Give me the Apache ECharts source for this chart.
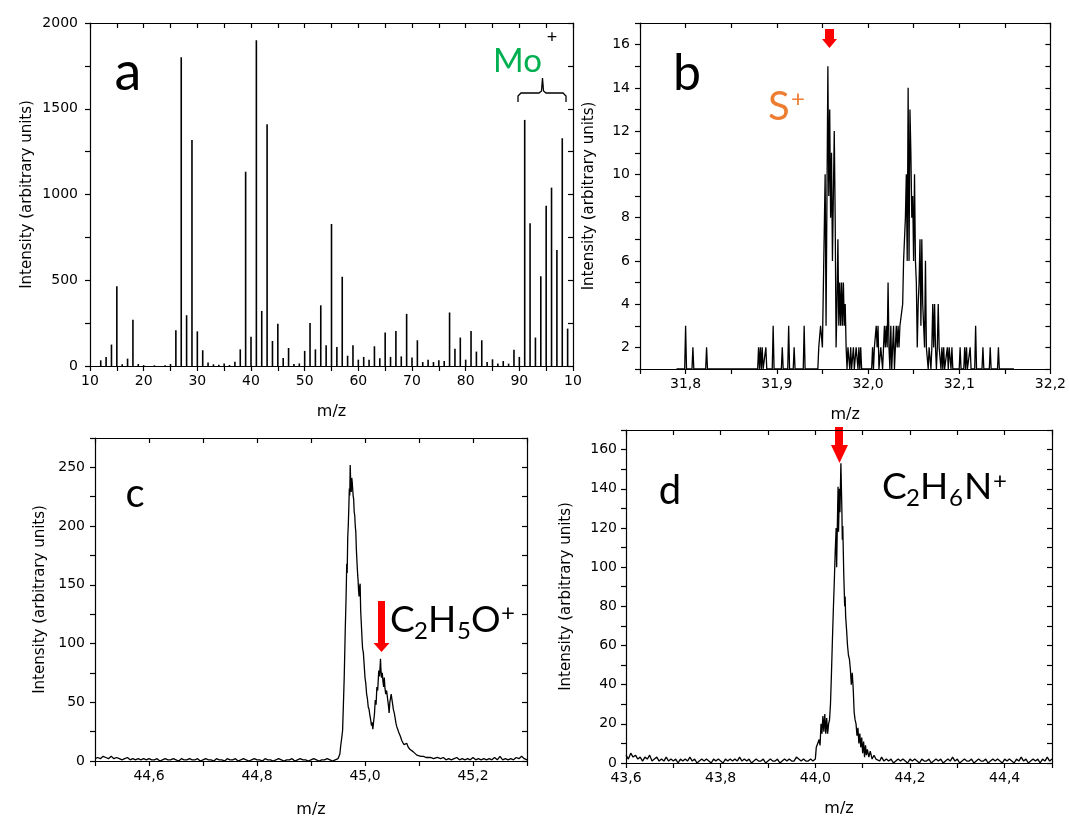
<!DOCTYPE html>
<html><head><meta charset="utf-8">
<script src="https://cdn.jsdelivr.net/npm/echarts@6/dist/echarts.min.js"></script>
<style>html,body{margin:0;padding:0;background:#fff}#chart{width:1069px;height:819px}</style>
</head><body><div id="chart"></div>
<script>
// ---- Panel a: stick spectrum (m/z, intensity)
const mzA  = [12,13,14,15,16,17,18,19,20,22,24,25,26,27,28,29,30,31,32,33,34,35,36,37,38,39,40,41,42,43,44,45,46,47,48,49,50,51,52,53,54,55,56,57,58,59,60,61,62,63,64,65,66,67,68,69,70,71,72,73,74,75,76,77,78,79,80,81,82,83,84,85,86,87,88,89,90,91,92,93,94,95,96,97,98,99];
const intA = [33,53,125,465,10,43,270,12,5,4,5,12,208,1801,296,1318,202,92,20,10,8,14,6,25,97,1133,170,1899,321,1410,146,247,47,105,12,15,88,251,97,354,121,828,111,520,60,121,37,53,37,115,45,195,53,204,56,304,49,150,23,37,23,33,29,312,101,166,37,204,84,150,23,39,14,29,14,95,53,1435,832,166,524,935,1040,676,1328,218];

// ---- Panel b: S+ region
const specB = [
[31.790,1],[31.799,1],[31.800,3],[31.801,1],[31.807,1],[31.808,2],[31.809,1],[31.822,1],[31.823,2],[31.824,1],
[31.879,1],[31.880,2],[31.881,1],[31.882,2],[31.883,1],[31.884,2],[31.885,1],[31.887,1],[31.888,2],[31.889,1],
[31.895,1],[31.896,3],[31.897,1],[31.905,1],[31.906,2],[31.907,1],[31.912,1],[31.913,3],[31.914,1],
[31.918,1],[31.919,2],[31.920,1],[31.929,1],[31.930,3],[31.931,1],
[31.945,1],[31.946,2],[31.947,2],[31.948,3],[31.949,3],[31.950,2],[31.951,2],[31.953,10],[31.954,3],[31.956,15],[31.957,9],[31.958,13],[31.959,8],[31.960,11],[31.961,6],[31.963,12],[31.964,8],[31.965,2],[31.966,4],[31.967,7],[31.968,3],[31.969,5],[31.970,3],[31.971,5],[31.972,3],[31.973,5],[31.974,3],[31.975,4],[31.976,2],[31.977,1],[31.978,2],[31.979,2],[31.980,1],[31.981,2],[31.982,1],[31.983,1],[31.984,2],[31.985,1],[31.986,1],[31.987,2],[31.988,2],[31.989,1],[31.990,2],[31.991,1],[31.992,2],[31.993,1],
[32.004,1],[32.005,2],[32.006,1],[32.007,2],[32.008,2],[32.009,3],[32.010,2],[32.011,3],[32.012,1],[32.013,1],[32.014,2],[32.015,2],[32.016,1],[32.017,2],[32.018,3],[32.019,2],[32.020,3],[32.021,2],[32.022,5],[32.023,2],[32.024,1],[32.025,3],[32.026,1],[32.027,2],[32.028,3],[32.029,1],[32.030,2],[32.031,3],[32.032,2],[32.033,3],[32.034,2],[32.035,3],
[32.036,3],[32.037,3],[32.038,4],[32.039,6],[32.040,6],[32.041,8],[32.042,10],[32.043,6],[32.044,14],[32.045,6],[32.046,13],[32.047,11],[32.048,8],[32.049,9],[32.050,6],[32.051,10],[32.052,6],[32.053,5],[32.054,2],[32.055,4],[32.056,5],[32.057,7],[32.058,3],[32.059,7],[32.060,4],[32.061,3],[32.062,2],[32.063,6],[32.064,2],[32.065,2],[32.066,1],[32.067,2],[32.068,2],[32.069,1],[32.070,2],[32.071,4],[32.072,2],[32.073,4],[32.074,2],[32.075,1],[32.076,2],[32.077,4],[32.078,2],[32.079,2],[32.080,1],[32.081,2],[32.082,1],[32.083,2],[32.084,1],[32.086,1],[32.087,2],[32.088,1],[32.089,2],[32.090,2],[32.091,1],[32.092,2],[32.093,1],
[32.100,1],[32.101,2],[32.102,1],[32.105,1],[32.106,2],[32.107,1],[32.108,2],[32.109,1],[32.111,1],[32.112,2],[32.113,1],[32.117,1],[32.118,3],[32.119,1],[32.125,1],[32.126,2],[32.127,1],[32.133,1],[32.134,2],[32.135,1],[32.142,1],[32.143,2],[32.144,1],[32.160,1]
];

// ---- Panel c: C2H5O+ region
const specC = [
[44.500,2],[44.505,3],[44.510,2],[44.515,4],[44.520,3],[44.525,2],[44.530,4],[44.535,2],[44.540,3],[44.545,2],[44.550,1],[44.555,2],[44.560,3],[44.565,1],[44.570,2],[44.575,1],[44.580,2],[44.585,1],[44.590,2],[44.595,1],
[44.600,2],[44.605,1],[44.610,1],[44.615,2],[44.620,0],[44.625,1],[44.630,2],[44.635,1],[44.640,1],[44.645,2],[44.650,1],[44.655,0],[44.660,2],[44.665,1],[44.670,1],[44.675,2],[44.680,1],[44.685,1],[44.690,2],[44.695,0],
[44.700,1],[44.705,2],[44.710,1],[44.715,1],[44.720,0],[44.725,2],[44.730,1],[44.735,1],[44.740,0],[44.745,2],[44.750,1],[44.755,1],[44.760,2],[44.765,0],[44.770,1],[44.775,2],[44.780,1],[44.785,0],[44.790,1],[44.795,2],
[44.800,1],[44.805,1],[44.810,0],[44.815,2],[44.820,1],[44.825,1],[44.830,0],[44.835,1],[44.840,2],[44.845,1],[44.850,0],[44.855,1],[44.860,1],[44.865,2],[44.870,0],[44.875,1],[44.880,2],[44.885,1],[44.890,1],[44.895,0],
[44.900,1],[44.905,2],[44.910,1],[44.915,0],[44.920,1],[44.925,1],[44.930,2],[44.935,1],[44.940,0],[44.945,1],[44.950,2],
[44.951,1],[44.952,3],[44.9535,6],[44.955,13],[44.957,20],[44.9585,26],[44.960,48],[44.9615,71],[44.9635,113],[44.965,140],[44.9662,168],[44.967,160],[44.968,190],[44.969,200],[44.970,215],[44.971,232],[44.9718,226],[44.9726,252],[44.9735,238],[44.9745,229],[44.9755,241],[44.9764,237],[44.978,226],[44.979,223],[44.980,212],[44.981,209],[44.982,200],[44.983,195],[44.984,180],[44.9853,168],[44.9865,158],[44.9872,154],[44.988,146],[44.989,140],[44.990,148],[44.991,151],[44.992,128],[44.9936,113],[44.9945,104],[44.9955,96],[44.997,92],[44.998,85],[44.999,78],
[45.000,71],[45.0015,66],[45.003,57],[45.0045,53],[45.006,46],[45.0075,44],[45.009,39],[45.0105,35],[45.012,30],[45.013,33],[45.0145,27],[45.016,28],[45.0175,40],[45.019,52],[45.0205,48],[45.022,63],[45.0235,60],[45.0255,77],[45.027,72],[45.0287,87],[45.0295,78],[45.0306,71],[45.032,75],[45.0332,68],[45.0345,63],[45.0357,71],[45.037,62],[45.0383,57],[45.040,60],[45.0421,52],[45.0435,47],[45.0447,41],[45.046,50],[45.0485,57],[45.050,52],[45.051,49],[45.0525,44],[45.0542,41],[45.056,36],[45.0574,32],[45.059,29],[45.0606,27],[45.062,25],[45.0638,24],[45.0655,21],[45.067,19],[45.0685,17],[45.0702,16],[45.072,14],[45.0753,13],[45.0775,15],[45.0798,12],[45.083,10],[45.0862,9],[45.089,8],[45.0926,7],[45.096,5],[45.099,6],[45.1035,4],[45.1085,4],[45.113,3],[45.1213,3],[45.127,2],[45.134,3],
[45.140,2],[45.145,3],[45.150,1],[45.155,2],[45.160,1],[45.165,2],[45.170,3],[45.175,1],[45.180,2],[45.185,1],[45.190,2],[45.195,1],[45.200,3],[45.205,1],[45.210,2],[45.215,1],[45.220,2],[45.225,1],[45.230,2],[45.235,1],[45.240,3],[45.245,1],[45.250,4],[45.255,1],[45.260,2],[45.265,1],[45.270,2],[45.275,1],[45.280,3],[45.285,2],[45.290,4],[45.295,2],[45.300,1]
];

// ---- Panel d: C2H6N+ region
const specD = [
[43.600,4],[43.605,2],[43.610,5],[43.615,3],[43.620,4],[43.625,2],[43.630,3],[43.635,1],[43.640,3],[43.645,2],[43.650,4],[43.655,1],[43.660,2],[43.665,3],[43.670,1],[43.675,2],[43.680,1],[43.685,3],[43.690,1],[43.695,2],
[43.700,1],[43.705,2],[43.710,0],[43.715,2],[43.720,1],[43.725,2],[43.730,1],[43.735,3],[43.740,1],[43.745,2],[43.750,0],[43.755,1],[43.760,2],[43.765,1],[43.770,2],[43.775,1],[43.780,0],[43.785,2],[43.790,1],[43.795,2],
[43.800,1],[43.805,0],[43.810,2],[43.815,1],[43.820,2],[43.825,1],[43.830,2],[43.835,1],[43.840,3],[43.845,1],[43.850,2],[43.855,1],[43.860,2],[43.865,0],[43.870,1],[43.875,2],[43.880,1],[43.885,1],[43.890,2],[43.895,0],
[43.900,1],[43.905,2],[43.910,1],[43.915,1],[43.920,2],[43.925,0],[43.930,1],[43.935,2],[43.940,1],[43.945,2],[43.950,1],[43.955,1],[43.960,3],[43.965,2],[43.970,1],[43.975,2],[43.980,1],[43.985,1],[43.990,2],[43.995,1],
[44.000,2],[44.002,8],[44.005,10],[44.008,12],[44.010,9],[44.012,20],[44.014,15],[44.016,24],[44.018,16],[44.020,25],[44.022,15],[44.024,23],[44.026,15],[44.028,20],[44.030,22],[44.032,30],[44.034,45],[44.036,62],[44.038,78],[44.040,92],[44.042,108],[44.044,120],[44.045,100],[44.047,128],[44.048,141],[44.049,118],[44.051,140],[44.052,128],[44.054,153],[44.056,130],[44.057,114],[44.058,121],[44.060,97],[44.062,80],[44.063,85],[44.064,75],[44.066,68],[44.068,60],[44.070,55],[44.072,53],[44.074,48],[44.076,40],[44.078,46],[44.080,38],[44.082,26],[44.084,22],[44.086,20],[44.088,14],[44.090,18],[44.092,10],[44.094,15],[44.096,8],[44.098,13],[44.100,5],[44.102,11],[44.104,3],[44.106,9],[44.108,4],[44.110,7],[44.113,3],[44.116,6],[44.120,2],[44.124,4],[44.128,2],[44.132,3],[44.136,1],[44.140,3],
[44.145,1],[44.150,2],[44.155,1],[44.160,2],[44.165,0],[44.170,1],[44.175,2],[44.180,1],[44.185,2],[44.190,1],[44.195,0],[44.200,2],[44.205,1],[44.210,2],[44.215,1],[44.220,0],[44.225,2],[44.230,1],[44.235,1],[44.240,2],
[44.245,0],[44.250,1],[44.255,2],[44.260,1],[44.265,2],[44.270,0],[44.275,1],[44.280,2],[44.285,1],[44.290,3],[44.295,1],[44.300,2],[44.305,0],[44.310,1],[44.315,2],[44.320,1],[44.325,1],[44.330,2],[44.335,0],[44.340,1],
[44.345,2],[44.350,1],[44.355,1],[44.360,2],[44.365,0],[44.370,1],[44.375,2],[44.380,1],[44.385,2],[44.390,1],[44.395,0],[44.400,2],[44.405,1],[44.410,2],[44.415,1],[44.420,0],[44.425,2],[44.430,1],[44.435,3],[44.440,1],
[44.445,2],[44.450,0],[44.455,1],[44.460,2],[44.465,1],[44.470,2],[44.475,0],[44.480,2],[44.485,1],[44.490,3],[44.495,1],[44.500,2]
];

const YNAME = 'Intensity (arbitrary units)';
const XNAME = 'm/z';
const AX_FONT = 'DejaVu Sans';

const chart = echarts.init(document.getElementById('chart'), null, {renderer:'canvas'});

const lineS = {color:'#000', width:1.2};
function comma(v, d){ return v.toFixed(d).replace('.', ','); }

function xPair(grid, min, max, interval, fmt, nameGap){
  return [
    {type:'value', gridIndex:grid, position:'bottom', min, max, interval,
     name:XNAME, nameLocation:'middle', nameGap,
     nameTextStyle:{fontFamily:AX_FONT, fontSize:16, color:'#000'},
     axisLine:{onZero:false, lineStyle:lineS},
     axisTick:{inside:false, length:5, lineStyle:lineS},
     axisLabel:{formatter:fmt, fontFamily:AX_FONT, fontSize:14, color:'#000', margin:8, showMinLabel:true, showMaxLabel:true},
     splitLine:{show:false}},
    {type:'value', gridIndex:grid, position:'top', min, max, interval,
     axisLine:{onZero:false, lineStyle:lineS},
     axisTick:{inside:true, length:5, lineStyle:lineS},
     axisLabel:{show:false}, splitLine:{show:false}}
  ];
}
function yPair(grid, min, max, interval, fmt, nameGap, labMargin){
  return [
    {type:'value', gridIndex:grid, position:'left', min, max, interval,
     name:YNAME, nameLocation:'middle', nameGap,
     nameTextStyle:{fontFamily:AX_FONT, fontSize:15, color:'#000'},
     axisLine:{show:true, onZero:false, lineStyle:lineS},
     axisTick:{show:true, inside:false, length:5, lineStyle:lineS},
     axisLabel:{formatter:fmt, fontFamily:AX_FONT, fontSize:14, color:'#000', margin:labMargin, showMinLabel:true, showMaxLabel:true},
     splitLine:{show:false}},
    {type:'value', gridIndex:grid, position:'right', min, max, interval,
     axisLine:{show:true, onZero:false, lineStyle:lineS},
     axisTick:{show:true, inside:true, length:5, lineStyle:lineS},
     axisLabel:{show:false}, splitLine:{show:false}}
  ];
}

const xAxis = [].concat(
  xPair(0, 10, 100, 5, v => (Math.round(v) % 10 === 0 ? (Math.round(v) === 100 ? '10' : String(Math.round(v))) : ''), 38),
  xPair(1, 31.75, 32.2, 0.05, v => (Math.round(v*100) % 10 === 0 ? comma(v,1) : ''), 38),
  xPair(2, 44.5, 45.3, 0.1, v => (Math.round(v*10) % 2 === 0 ? comma(v,1) : ''), 41),
  xPair(3, 43.6, 44.5, 0.1, v => (Math.round(v*10) % 2 === 0 ? comma(v,1) : ''), 38)
);
const yAxis = [].concat(
  yPair(0, 0, 2000, 250, v => (Math.round(v) % 500 === 0 ? String(Math.round(v)) : ''), 55, 12),
  yPair(1, 1, 17, 1, v => (Math.round(v) % 2 === 0 ? String(Math.round(v)) : ''), 43, 10),
  yPair(2, 0, 275, 25, v => (Math.round(v) % 50 === 0 ? String(Math.round(v)) : ''), 47, 10),
  yPair(3, 0, 170, 10, v => (Math.round(v) % 20 === 0 ? String(Math.round(v)) : ''), 52, 9)
);

function txt(x, y, text, size, color, family, align){
  return {type:'text', x, y, silent:true,
    style:{text, fill:color, fontSize:size, fontFamily:family||'Lato',
      textAlign:align||'left', align:align||'left', textVerticalAlign:'middle', verticalAlign:'middle'}};
}
function arrow(pts){ return {type:'polygon', silent:true, shape:{points:pts}, style:{fill:'#ff0000'}}; }

const graphic = [
  txt(128, 73, 'a', 54, '#000', 'Lato', 'center'),
  txt(687, 74, 'b', 50, '#000', 'Lato', 'center'),
  txt(135, 494, 'c', 40, '#000', 'Lato', 'center'),
  txt(670, 491, 'd', 40, '#000', 'Lato', 'center'),
  // Mo+ with bracket
  txt(493, 61, 'Mo', 33, '#00b050'),
  txt(552, 37, '+', 18, '#000', 'Lato', 'center'),
  {type:'polyline', silent:true, shape:{points:[[518,102],[518,96],[521,93],[539,93],[541.5,91],[542.5,78],[543.5,91],[546,93],[563,93],[566,96],[566,102]]}, style:{stroke:'#000', lineWidth:1.3, fill:null}},
  // S+
  txt(768, 107, 'S', 40, '#ed7d31'),
  txt(798, 99, '+', 24, '#ed7d31', 'Lato', 'center'),
  arrow([[825,29],[834,29],[834,39],[837,39],[829.5,48],[822,39],[825,39]]),
  // C2H5O+
  arrow([[378,601],[385,601],[385,643],[389.5,643],[381.5,652],[373.5,643],[378,643]]),
  txt(390, 620, 'C', 37, '#000'),
  txt(414, 631, '2', 24, '#000'),
  txt(428, 620, 'H', 37, '#000'),
  txt(457, 631, '5', 24, '#000'),
  txt(471, 620, 'O', 37, '#000'),
  txt(501, 613, '+', 24, '#000'),
  // C2H6N+
  arrow([[835,427],[843,427],[843,445],[848,445],[839.5,463],[831,445],[835,445]]),
  txt(882, 487, 'C', 37, '#000'),
  txt(906, 498, '2', 24, '#000'),
  txt(920, 487, 'H', 37, '#000'),
  txt(949, 498, '6', 24, '#000'),
  txt(964, 487, 'N', 37, '#000'),
  txt(993, 481, '+', 24, '#000')
];

const lineSeries = (idx, data) => ({
  type:'line', xAxisIndex:idx*2, yAxisIndex:idx*2, data, showSymbol:false, symbol:'none',
  lineStyle:{color:'#000', width:1.3}, clip:true, silent:true, animation:false
});

chart.setOption({
  animation:false,
  backgroundColor:'#fff',
  grid:[
    {left:90, top:23, width:483, height:343},
    {left:640, top:23, width:414, height:346},
    {left:95, top:438, width:432, height:331},
    {left:626, top:430, width:426, height:333}
  ],
  xAxis, yAxis,
  series:[
    {type:'bar', xAxisIndex:0, yAxisIndex:0, barWidth:1.6, silent:true, animation:false,
     itemStyle:{color:'#000'}, data: mzA.map((m,i)=>[m, intA[i]])},
    lineSeries(1, specB),
    lineSeries(2, specC),
    lineSeries(3, specD)
  ],
  graphic
});
</script></body></html>
